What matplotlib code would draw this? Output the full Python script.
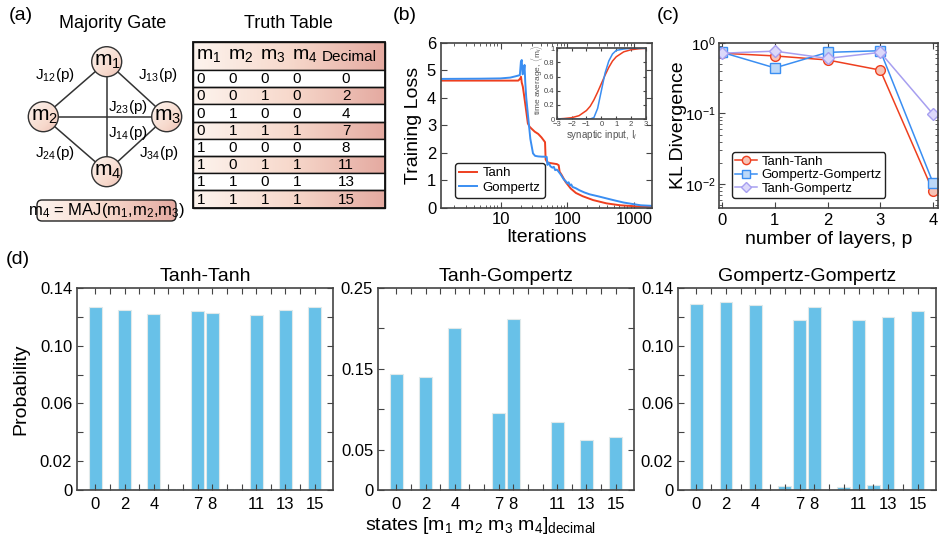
import numpy as np
import matplotlib.pyplot as plt
from matplotlib.patches import Circle, FancyBboxPatch, Rectangle
from matplotlib.colors import LinearSegmentedColormap

plt.rcParams['font.family'] = ['Liberation Sans', 'DejaVu Sans']
plt.rcParams['mathtext.fontset'] = 'custom'
plt.rcParams['mathtext.rm'] = 'Liberation Sans'
plt.rcParams['mathtext.it'] = 'Liberation Sans:italic'

# ---------------- data ----------------
# truth table of the majority gate
m1_col = [0, 0, 0, 0, 1, 1, 1, 1]
m2_col = [0, 0, 1, 1, 0, 0, 1, 1]
m3_col = [0, 1, 0, 1, 0, 1, 0, 1]
m4_col = [0, 0, 0, 1, 0, 1, 1, 1]

# (b) training loss
tanh_iter = [1, 5, 10, 15, 18.5, 19.8, 20.3, 20.8, 21.6, 22.5, 24, 25.7, 27.3, 28.9,
             32.6, 36.7, 41.2, 46.5, 47.5, 50, 55, 62, 70, 74.5, 77, 82.8, 94.5, 113,
             135, 171, 245, 390, 625, 1120, 1870]
tanh_loss = [4.62, 4.62, 4.62, 4.62, 4.62, 4.70, 4.76, 4.55, 4.40, 4.10, 3.60, 3.06, 2.94, 2.88,
             2.76, 2.68, 2.55, 2.38, 1.75, 1.65, 1.62, 1.60, 1.58, 1.54, 1.30, 1.18, 0.93, 0.69,
             0.53, 0.41, 0.27, 0.15, 0.08, 0.04, 0.03]
gomp_iter = [1, 5, 10, 14, 17, 19.5, 20.2, 20.8, 21.4, 22.2, 22.9, 23.5, 24.3, 25.7, 28, 30.7,
             33, 36.7, 42, 48, 49.3, 50.5, 53, 56, 60, 63, 66, 70, 74.5, 80, 89, 95, 100, 105,
             110, 115, 120, 135, 152, 180, 217, 300, 390, 530, 705, 1000, 1270, 1870]
gomp_loss = [4.68, 4.69, 4.70, 4.73, 4.78, 4.82, 5.30, 5.37, 4.85, 4.90, 5.19, 4.55, 4.00, 3.40, 2.50, 1.97,
             1.88, 1.86, 1.85, 1.85, 1.84, 1.55, 1.62, 1.50, 1.45, 1.48, 1.36, 1.38, 1.30, 1.20, 1.02, 0.96, 0.88, 0.92,
             0.80, 0.84, 0.75, 0.70, 0.63, 0.55, 0.48, 0.40, 0.33, 0.25, 0.18, 0.12, 0.08, 0.06]

# (b) inset: activation functions
act_x = [-3, -2.5, -2, -1.5, -1, -0.75, -0.5, -0.25, 0, 0.25, 0.5, 0.75, 1, 1.5, 2, 2.5, 3]
tanh_act = [0.0, 0.007, 0.018, 0.047, 0.12, 0.18, 0.27, 0.38, 0.5, 0.62, 0.73, 0.82, 0.88, 0.95, 0.98, 0.993, 1.0]
gomp_act = [0.0, 0.0, 0.0, 0.0, 0.0, 0.0, 0.02, 0.15, 0.40, 0.65, 0.82, 0.92, 0.97, 0.99, 1.0, 1.0, 1.0]

# (c) KL divergence vs number of layers
layers = [0, 1, 2, 3, 4]
kl_tanh_tanh = [0.71, 0.65, 0.57, 0.41, 0.0080]
kl_gomp_gomp = [0.73, 0.44, 0.73, 0.77, 0.0105]
kl_tanh_gomp = [0.71, 0.76, 0.60, 0.73, 0.098]

# (d) probability distributions over the 16 states
states = list(range(16))
prob_tanh_tanh = [0.127, 0, 0.125, 0.0008, 0.122, 0.0008, 0.0008, 0.124,
                  0.123, 0.0008, 0.0008, 0.121, 0.0008, 0.125, 0, 0.127]
prob_tanh_gomp = [0.144, 0, 0.140, 0, 0.200, 0, 0, 0.095,
                  0.212, 0, 0, 0.084, 0, 0.062, 0, 0.065]
prob_gomp_gomp = [0.129, 0, 0.130, 0, 0.128, 0, 0.003, 0.118,
                  0.127, 0, 0.0024, 0.118, 0.0033, 0.120, 0, 0.124]
state_labels = ['0', '', '2', '', '4', '', '', '7', '8', '', '', '11', '', '13', '', '15']

RED = '#ee3f1f'
BLUE = '#3a8ef2'
PURPLE = '#a79ff0'
BAR = '#68c1e8'
SPINE = '#444444'

W, H = 946, 546
fig = plt.figure(figsize=(9.46, 5.46), dpi=100)


def px_axes(l, t, r, b):
    return fig.add_axes([l / W, 1 - b / H, (r - l) / W, (b - t) / H])


def style(ax, size=12):
    for s in ax.spines.values():
        s.set_color(SPINE)
        s.set_linewidth(1.2)
    ax.tick_params(which='both', direction='in', top=True, right=True, color=SPINE, labelsize=size)
    ax.tick_params(which='major', length=4)
    ax.tick_params(which='minor', length=2)


# ---------------- overlay for panel (a) ----------------
ax0 = fig.add_axes([0, 0, 1, 1])
ax0.set_xlim(0, W)
ax0.set_ylim(H, 0)
ax0.axis('off')

peach = LinearSegmentedColormap.from_list('peach', ['#fdf4ee', '#f7d9cc', '#e4a9a0'])
grad = np.linspace(0, 1, 256).reshape(1, -1)
diag = (np.linspace(0, 1, 64)[None, :] + np.linspace(0, 1, 64)[:, None]) / 2


def grad_patch(patch, extent, img, cmap=peach, vmax=1.0):
    ax0.add_patch(patch)
    im = ax0.imshow(img, cmap=cmap, extent=extent, aspect='auto', vmin=0, vmax=vmax, zorder=patch.get_zorder() - 0.1)
    im.set_clip_path(patch)


ax0.text(21, 15, '(a)', fontsize=14, ha='center', va='center')
ax0.text(113, 24, 'Majority Gate', fontsize=13, ha='center', va='center')

nodes = {1: (106.7, 61.7), 2: (43.3, 116.7), 3: (166.7, 116.7), 4: (106.7, 171.7)}
for a, b in [(1, 2), (1, 3), (2, 4), (3, 4), (1, 4), (2, 3)]:
    ax0.plot([nodes[a][0], nodes[b][0]], [nodes[a][1], nodes[b][1]], color='#333333', lw=1.1, zorder=2)
r = 15
for k, (cx, cy) in nodes.items():
    c = Circle((cx, cy), r, facecolor='none', edgecolor='#333333', lw=1.0, zorder=4)
    grad_patch(c, [cx - r, cx + r, cy + r, cy - r], diag, vmax=1.3)
    ax0.text(cx + 1, cy, 'm$_{%d}$' % k, fontsize=15, ha='center', va='center', zorder=5)

jlabels = [('12', 55, 75), ('13', 158, 75), ('23', 128, 107), ('14', 128, 133), ('24', 55, 153), ('34', 159, 153)]
for sub, x, y in jlabels:
    ax0.text(x, y, 'J$_{%s}$(p)' % sub, fontsize=11, ha='center', va='center', zorder=5)

box = FancyBboxPatch((37, 200), 139, 21, boxstyle='round,pad=0,rounding_size=5',
                     facecolor='none', edgecolor='#222222', lw=1.0, zorder=4)
grad_patch(box, [37, 176, 221, 200], grad)
ax0.text(106.5, 210.5, 'm$_4$ = MAJ(m$_1$,m$_2$,m$_3$)', fontsize=12, ha='center', va='center', zorder=5)

# truth table
ax0.text(288, 23, 'Truth Table', fontsize=13, ha='center', va='center')
tl, tr, tt = 193, 385, 41.7
head_h, row_h = 28.3, 17.2
col_x = [201, 233, 265, 297, 346]
hdr = Rectangle((tl, tt), tr - tl, head_h, facecolor='none', edgecolor='#111111', lw=1.0, zorder=4)
grad_patch(hdr, [tl, tr, tt + head_h, tt], grad)
for i in range(4):
    ax0.text(col_x[i] - 5, tt + head_h / 2, 'm$_{%d}$' % (i + 1), fontsize=14, ha='left', va='center',
             zorder=5, family=['Liberation Sans Narrow', 'Liberation Sans'])
ax0.text(col_x[4] + 3, tt + head_h / 2 + 1, 'Decimal', fontsize=11, ha='center', va='center', zorder=5)
for j in range(len(m1_col)):
    y0 = tt + head_h + j * row_h
    bits = [m1_col[j], m2_col[j], m3_col[j], m4_col[j]]
    dec = 8 * bits[0] + 4 * bits[1] + 2 * bits[2] + bits[3]
    rect = Rectangle((tl, y0), tr - tl, row_h, facecolor='white' if j % 2 == 0 else 'none',
                     edgecolor='#111111', lw=1.0, zorder=4)
    if j % 2 == 1:
        grad_patch(rect, [tl, tr, y0 + row_h, y0], grad)
    else:
        ax0.add_patch(rect)
    for i, v in enumerate(bits + [dec]):
        ax0.text(col_x[i], y0 + row_h / 2 + 0.5, str(v), fontsize=11, ha='center', va='center', zorder=5)
ax0.add_patch(Rectangle((tl, tt), tr - tl, head_h + 8 * row_h, facecolor='none', edgecolor='#111111', lw=1.3, zorder=6))

ax0.text(405, 15, '(b)', fontsize=14, ha='center', va='center')
ax0.text(668, 15, '(c)', fontsize=14, ha='center', va='center')
ax0.text(18, 260, '(d)', fontsize=14, ha='center', va='center')

# ---------------- (b) training loss ----------------
axb = px_axes(441, 42.7, 652, 207.5)
axb.plot(tanh_iter, tanh_loss, color=RED, lw=1.4, label='Tanh')
axb.plot(gomp_iter, gomp_loss, color=BLUE, lw=1.4, label='Gompertz')
axb.set_xscale('log')
axb.set_xlim(1.28, 1870)
axb.set_ylim(0, 6)
axb.set_yticks(range(7))
axb.set_xticks([10, 100, 1000])
axb.set_xticklabels(['10', '100', '1000'])
style(axb)
axb.set_xlabel('Iterations', fontsize=14, labelpad=1)
axb.set_ylabel('Training Loss', fontsize=14)
axb.yaxis.set_label_coords(-0.09, 0.5)
leg = axb.legend(loc='lower left', bbox_to_anchor=(0.035, 0.02), fontsize=9.5, fancybox=True,
                 edgecolor='#222222', framealpha=1, handlelength=1.4, borderpad=0.3,
                 labelspacing=0.15, handletextpad=0.4)
leg.get_frame().set_linewidth(1.0)

axi = px_axes(556.7, 48.3, 646, 119)
axi.plot(act_x, tanh_act, color=RED, lw=1.1)
axi.plot(act_x, gomp_act, color=BLUE, lw=1.1)
axi.set_xlim(-3, 3)
axi.set_ylim(0, 1)
axi.set_xticks([-3, -2, -1, 0, 1, 2, 3])
axi.set_yticks([0, 0.2, 0.4, 0.6, 0.8, 1])
axi.set_yticklabels(['0', '0.2', '0.4', '0.6', '0.8', '1'])
style(axi, size=5.5)
axi.tick_params(which='major', length=2, pad=1.5, labelcolor='#444444')
axi.set_xlabel('synaptic input, I$_i$', fontsize=7, color='#555555', labelpad=0)
axi.set_ylabel(r'time average, $\langle$m$_i\rangle$', fontsize=6, color='#555555')
axi.yaxis.set_label_coords(-0.13, 0.56)

# ---------------- (c) KL divergence ----------------
axc = px_axes(719, 42.7, 937.7, 208)
axc.plot(layers, kl_tanh_tanh, '-o', color=RED, mfc='#f7c3b6', mec=RED, ms=7, lw=1.1, label='Tanh-Tanh')
axc.plot(layers, kl_gomp_gomp, '-s', color=BLUE, mfc='#bcd8f8', mec=BLUE, ms=6.5, lw=1.1, label='Gompertz-Gompertz')
axc.plot(layers, kl_tanh_gomp, '-D', color=PURPLE, mfc='#dcd8fa', mec=PURPLE, ms=6, lw=1.1, label='Tanh-Gompertz')
axc.set_yscale('log')
axc.set_ylim(0.0046, 1)
axc.set_xlim(-0.06, 4.09)
axc.set_xticks(layers)
style(axc)
axc.tick_params(axis='y', labelsize=11, pad=2.5)
axc.set_xlabel('number of layers, p', fontsize=14, labelpad=2)
axc.set_ylabel('KL Divergence', fontsize=14)
axc.yaxis.set_label_coords(-0.145, 0.5)
leg = axc.legend(loc='lower left', bbox_to_anchor=(0.03, 0.02), fontsize=9.5, fancybox=True,
                 edgecolor='#222222', framealpha=1, handlelength=1.6, borderpad=0.25,
                 labelspacing=0.1, handletextpad=0.4, markerscale=0.85)
leg.get_frame().set_linewidth(1.0)

# ---------------- (d) distributions ----------------
panels = [
    (77, 333, prob_tanh_tanh, 'Tanh-Tanh', 0.14, np.arange(0, 0.141, 0.02), {0: '0', 0.02: '0.02', 0.06: '0.06', 0.10: '0.10', 0.14: '0.14'}),
    (378, 634, prob_tanh_gomp, 'Tanh-Gompertz', 0.25, np.arange(0, 0.251, 0.05), {0: '0', 0.05: '0.05', 0.15: '0.15', 0.25: '0.25'}),
    (678, 936, prob_gomp_gomp, 'Gompertz-Gompertz', 0.14, np.arange(0, 0.141, 0.02), {0: '0', 0.02: '0.02', 0.06: '0.06', 0.10: '0.10', 0.14: '0.14'}),
]
for i, (l, rr, probs, title, ymax, yt, ylab) in enumerate(panels):
    ax = px_axes(l, 288, rr, 490)
    ax.bar(states, probs, width=0.87, color=BAR, edgecolor='#dfe9ea', lw=0.8)
    ax.set_xlim(-1.25, 16.25)
    ax.set_ylim(0, ymax)
    ax.set_xticks(states)
    ax.set_xticklabels(state_labels)
    ax.set_yticks(yt)
    ax.set_yticklabels([next((v for k, v in ylab.items() if abs(k - t) < 1e-6), '') for t in yt])
    style(ax)
    ax.tick_params(axis='x', pad=5)
    ax.set_title(title, fontsize=14, pad=5)
    if i == 0:
        ax.set_ylabel('Probability', fontsize=14)
        ax.yaxis.set_label_coords(-0.185, 0.5)

fig.text(480 / W, 1 - 525 / H, 'states [m$_1$ m$_2$ m$_3$ m$_4$]$_{\\mathrm{decimal}}$', fontsize=14,
         ha='center', va='center')

fig.savefig('out.png', dpi=100)
